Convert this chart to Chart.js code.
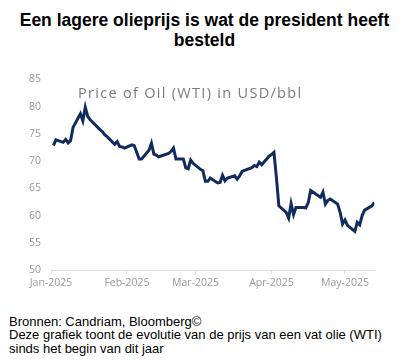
<!DOCTYPE html>
<html>
<head>
<meta charset="utf-8">
<script src="https://cdn.jsdelivr.net/npm/chart.js@4"></script>
<style>
  body { margin: 0; background: #fff; width: 413px; height: 362px; overflow: hidden; position: relative; }
  #title { position: absolute; top: 9.5px; left: 0; width: 409px; text-align: center;
           font: bold 17.5px "Liberation Sans", Arial, sans-serif; line-height: 20.5px; color: #000; }
  #chart { position: absolute; top: 60px; left: 0; }
  #footer { position: absolute; top: 315px; left: 9px;
            font: 13px "Liberation Sans", Arial, sans-serif; line-height: 13.3px; color: #000; }
</style>
</head>
<body>
<div id="title">Een lagere olieprijs is wat de president heeft<br>besteld</div>
<canvas id="chart" width="413" height="240"></canvas>
<div id="footer">Bronnen: Candriam, Bloomberg©<br>Deze grafiek toont de evolutie van de prijs van een vat olie (WTI)<br>sinds het begin van dit jaar</div>
<script>
// WTI price, USD/bbl, 2025 trading days (MM-DD)
const dates = [
  '01-02','01-03','01-06','01-07','01-08','01-09','01-10','01-13','01-14','01-15','01-16','01-17',
  '01-21','01-22','01-23','01-24','01-27','01-28','01-29','01-30','01-31',
  '02-03','02-04','02-05','02-06','02-07','02-10','02-11','02-12','02-13','02-14',
  '02-18','02-19','02-20','02-21','02-24','02-25','02-26','02-27','02-28',
  '03-03','03-04','03-05','03-06','03-07','03-10','03-11','03-12','03-13','03-14',
  '03-17','03-18','03-19','03-20','03-21','03-24','03-25','03-26','03-27','03-28','03-31',
  '04-01','04-02','04-03','04-04','04-07','04-08','04-09','04-10','04-11',
  '04-14','04-15','04-16','04-17','04-21','04-22','04-23','04-24','04-25','04-28','04-29','04-30',
  '05-01','05-02','05-05','05-06','05-07','05-08','05-09','05-12','05-13'
];
const prices = [
  72.85, 73.9, 73.45, 74.0, 73.35, 73.8, 76.2, 78.7, 77.4, 79.9, 78.2, 77.6,
  75.8, 75.4, 74.8, 74.45, 73.1, 73.6, 72.7, 72.6, 72.4,
  73.0, 72.85, 71.6, 70.4, 70.4, 72.0, 73.3, 71.3, 71.1, 70.8,
  71.4, 71.8, 72.4, 70.4, 70.4, 68.75, 68.6, 70.2, 69.6,
  68.5, 68.25, 66.3, 66.3, 66.9, 66.0, 66.1, 67.4, 66.4, 66.9,
  67.3, 66.7, 67.3, 68.1, 68.3, 68.8, 69.2, 69.0, 69.8, 69.35, 70.9,
  71.2, 71.6, 67.0, 61.8, 60.6, 59.55, 62.2, 60.2, 61.5,
  61.5, 61.4, 62.4, 64.6, 63.35, 64.3, 62.1, 62.8, 63.05, 62.1, 60.6, 58.45,
  59.2, 58.2, 57.1, 58.75, 58.3, 60.0, 61.0, 61.8, 62.4
];
const monthStarts = ['01-01', '02-01', '03-01', '04-01', '05-01'];
const monthLabels = ['Jan-2025', 'Feb-2025', 'Mar-2025', 'Apr-2025', 'May-2025'];
const yTicks = [50, 55, 60, 65, 70, 75, 80, 85];
const chartTitle = 'Price of Oil (WTI) in USD/bbl';

// days since 1 Jan 2025
function dayOf(s) {
  const [m, d] = s.split('-').map(Number);
  return (Date.UTC(2025, m - 1, d) - Date.UTC(2025, 0, 1)) / 86400000;
}
const monthDays = monthStarts.map(dayOf);
const points = dates.map((d, i) => ({ x: dayOf(d), y: prices[i] }));

const tickFont = { family: '"Open Sans", sans-serif', size: 10.5 };

// grey title sitting inside the plot area
const innerTitle = {
  id: 'innerTitle',
  afterDraw(chart) {
    const ctx = chart.ctx, a = chart.chartArea;
    ctx.save();
    ctx.font = '14.5px "Open Sans", sans-serif';
    ctx.letterSpacing = '1.3px';
    ctx.fillStyle = '#7c7c7c';
    ctx.textBaseline = 'alphabetic';
    ctx.fillText(chartTitle, a.left + 27, a.top + 18);
    ctx.restore();
  }
};

new Chart(document.getElementById('chart').getContext('2d'), {
  type: 'line',
  data: {
    datasets: [{
      data: points,
      borderColor: '#102c5e',
      borderWidth: 3,
      pointRadius: 0,
      tension: 0
    }]
  },
  options: {
    responsive: false,
    animation: false,
    devicePixelRatio: 1,
    layout: { padding: { top: 19.5, right: 38.6, left: 0, bottom: 0 } },
    plugins: { legend: { display: false }, tooltip: { enabled: false } },
    scales: {
      x: {
        type: 'linear',
        min: 0,
        max: 132,
        afterBuildTicks: s => { s.ticks = monthDays.map(v => ({ value: v })); },
        afterFit: s => { s.height = 30; },
        ticks: {
          autoSkip: false, maxRotation: 0, padding: 3,
          color: '#999', font: tickFont,
          callback: v => monthLabels[monthDays.indexOf(v)]
        },
        grid: { drawOnChartArea: false, drawTicks: true, tickLength: 4, color: '#dcdcdc' },
        border: { display: true, color: '#dcdcdc' }
      },
      y: {
        min: 50,
        max: 85,
        afterBuildTicks: s => { s.ticks = yTicks.map(v => ({ value: v })); },
        afterFit: s => { s.width = 51; },
        ticks: { padding: 10, color: '#999', font: tickFont },
        grid: { display: false, drawTicks: false },
        border: { display: false }
      }
    }
  },
  plugins: [innerTitle]
});
</script>
</body>
</html>
